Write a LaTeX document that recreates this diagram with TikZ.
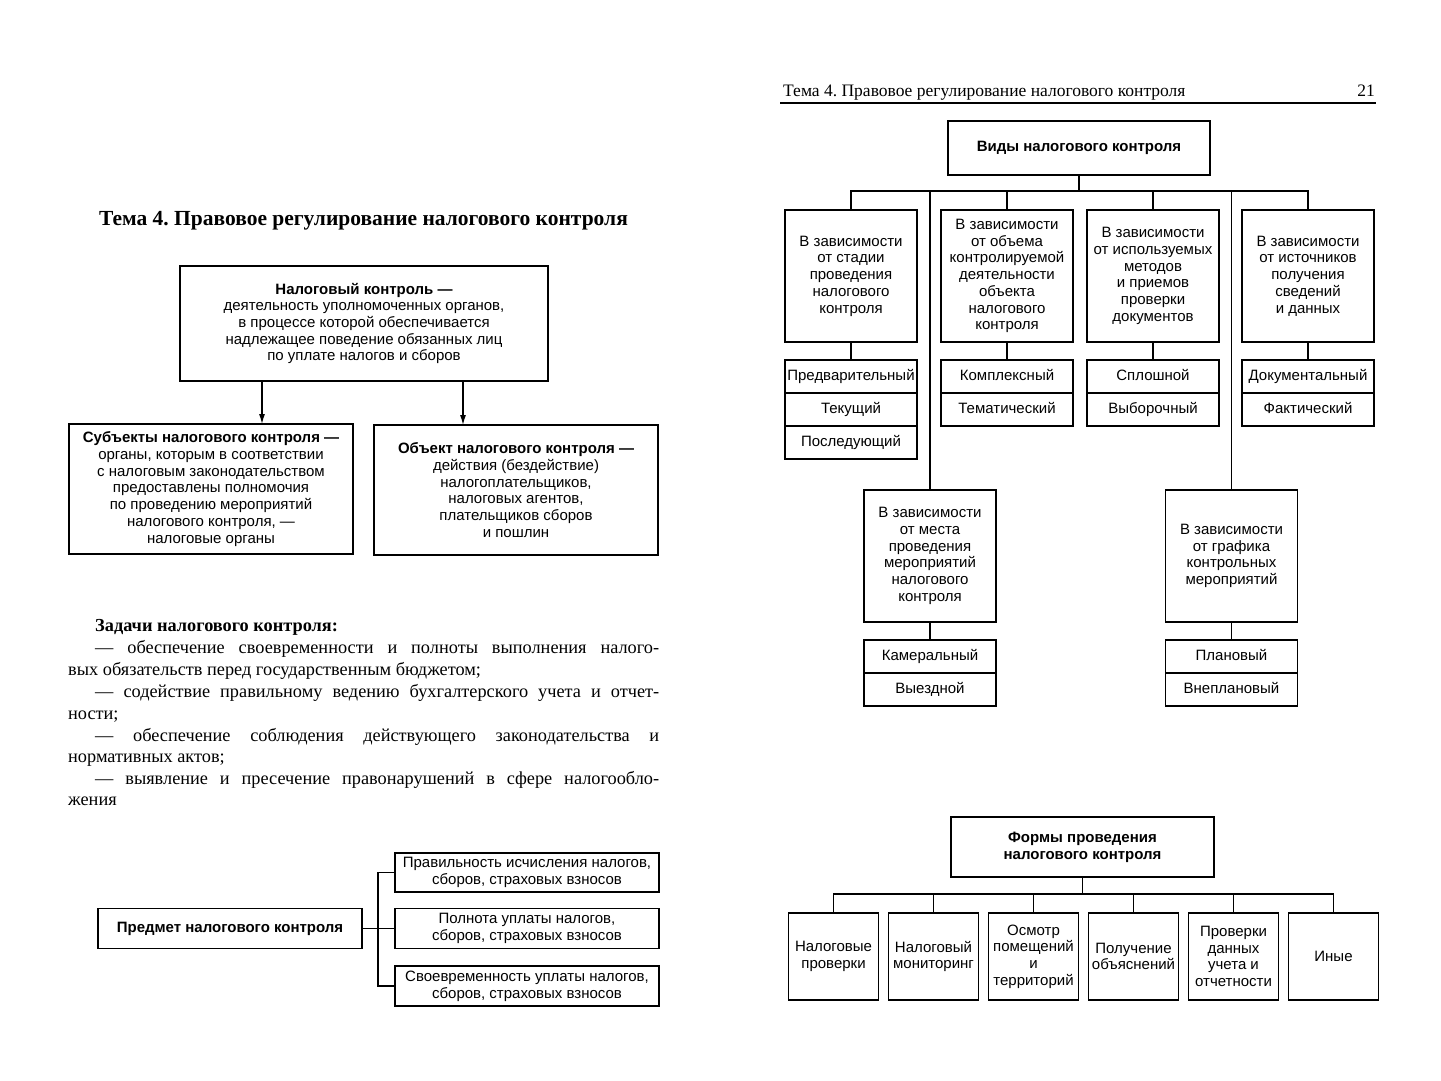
\documentclass[tikz,border=0pt]{standalone}
\usepackage{fontspec}
\setmainfont{Liberation Serif}
\setsansfont{Liberation Sans}
\usetikzlibrary{positioning,arrows.meta}

\newcommand{\boxfont}{\sffamily\fontsize{15}{16.7}\selectfont}
\newcommand{\bodyfont}{\rmfamily\fontsize{18.3}{21.7}\selectfont}
\newcommand{\jline}[2]{\hbox to #1{#2}}

\begin{document}
\frenchspacing
\begin{tikzpicture}[x=1pt,y=-1pt]
\tikzstyle{box}=[rectangle, draw=black, line width=1.4pt, outer sep=0pt, inner sep=1pt, align=center, font=\boxfont]
\tikzstyle{kind}=[box, minimum width=132pt, minimum height=132pt]
\tikzstyle{sub}=[box, minimum width=132pt, minimum height=33pt, text height=11pt, text depth=3pt]
\tikzstyle{form}=[box, minimum width=90pt, minimum height=87pt]
\tikzstyle{item}=[box, minimum width=264pt, minimum height=40pt]
\tikzstyle{connect}=[line width=1.2pt]
\tikzstyle{arrow}=[-{Latex[length=10pt,width=6pt]}, line width=1.2pt]
\tikzstyle{body}=[anchor=base west, inner sep=0pt, font=\bodyfont]

\useasboundingbox[fill=white] (0,0) rectangle (1441,1080);

% left page
\node[anchor=base, inner sep=0pt, font=\bfseries\fontsize{21.5}{25}\selectfont] (title) at (363.5,225) {Тема 4. Правовое регулирование налогового контроля};

\node[box, minimum width=368pt, minimum height=115pt] (nk) at (364,323.5) {\textbf{Налоговый контроль —}\\деятельность уполномоченных органов,\\в процессе которой обеспечивается\\надлежащее поведение обязанных лиц\\по уплате налогов и сборов};
\node[box, minimum width=284pt, minimum height=130pt] (subj) at (211,489) {\textbf{Субъекты налогового контроля —}\\органы, которым в соответствии\\с налоговым законодательством\\предоставлены полномочия\\по проведению мероприятий\\налогового контроля, —\\налоговые органы};
\node[box, minimum width=284pt, minimum height=130pt] (obj) at (516,490) {\textbf{Объект налогового контроля —}\\действия (бездействие)\\налогоплательщиков,\\налоговых агентов,\\плательщиков сборов\\и пошлин};
\coordinate (a1) at (262,0);
\coordinate (a2) at (463,0);
\draw[arrow] (nk.south -| a1) -- (subj.north -| a1);
\draw[arrow] (nk.south -| a2) -- (obj.north -| a2);

\node[body, font=\bfseries\fontsize{18.3}{21.7}\selectfont] (tasks) at (95,631) {Задачи налогового контроля:};
\node[body] (t1) at (95,653) {\jline{564pt}{— обеспечение своевременности и полноты выполнения налого-}};
\node[body] (t2) at (68,675) {вых обязательств перед государственным бюджетом;};
\node[body] (t3) at (95,697) {\jline{564pt}{— содействие правильному ведению бухгалтерского учета и отчет-}};
\node[body] (t4) at (68,719) {ности;};
\node[body] (t5) at (95,741) {\jline{564pt}{— обеспечение соблюдения действующего законодательства и}};
\node[body] (t6) at (68,762) {нормативных актов;};
\node[body] (t7) at (95,784) {\jline{564pt}{— выявление и пресечение правонарушений в сфере налогообло-}};
\node[body] (t8) at (68,805) {жения};

\node[item] (pred) at (230,928.5) {\textbf{Предмет налогового контроля}};
\node[item, minimum height=39pt] (p1) at (527,872.5) {Правильность исчисления налогов,\\сборов, страховых взносов};
\node[item] (p2) at (527,928.5) {Полнота уплаты налогов,\\сборов, страховых взносов};
\node[item] (p3) at (527,986) {Своевременность уплаты налогов,\\сборов, страховых взносов};
\coordinate (pj) at (378,928.5);
\draw[connect] (pred.east) -- (p2.west);
\draw[connect] (p1.west) -- (pj |- p1.west) -- (pj |- p3.west) -- (p3.west);

% right page
\node[anchor=base west, inner sep=0pt, font=\fontsize{17.5}{21}\selectfont] (head) at (783,96) {Тема 4. Правовое регулирование налогового контроля};
\node[anchor=base east, inner sep=0pt, font=\fontsize{17.5}{21}\selectfont] (page) at (1375,96) {21};
\draw[line width=1.2pt] (780,103) -- (1376,103);

\node[box, minimum width=262pt, minimum height=54pt] (vid) at (1079,148) {\textbf{Виды налогового контроля}};
\node[kind] (k1) at (851,276) {В зависимости\\от стадии\\проведения\\налогового\\контроля};
\node[kind] (k2) [right=24pt of k1] {В зависимости\\от объема\\контролируемой\\деятельности\\объекта\\налогового\\контроля};
\node[kind] (k3) [right=14pt of k2] {В зависимости\\от используемых\\методов\\и приемов\\проверки\\документов};
\node[kind] (k4) [right=23pt of k3] {В зависимости\\от источников\\получения\\сведений\\и данных};
\node[kind] (k5) at (930,556) {В зависимости\\от места\\проведения\\мероприятий\\налогового\\контроля};
\node[kind] (k6) at (1231.5,556) {В зависимости\\от графика\\контрольных\\мероприятий};

\node[sub] (k1a) [below=18pt of k1] {Предварительный};
\node[sub] (k1b) [below=0pt of k1a] {Текущий};
\node[sub] (k1c) [below=0pt of k1b] {Последующий};
\node[sub] (k2a) [below=18pt of k2] {Комплексный};
\node[sub] (k2b) [below=0pt of k2a] {Тематический};
\node[sub] (k3a) [below=18pt of k3] {Сплошной};
\node[sub] (k3b) [below=0pt of k3a] {Выборочный};
\node[sub] (k4a) [below=18pt of k4] {Документальный};
\node[sub] (k4b) [below=0pt of k4a] {Фактический};
\node[sub] (k5a) [below=18pt of k5] {Камеральный};
\node[sub] (k5b) [below=0pt of k5a] {Выездной};
\node[sub] (k6a) [below=18pt of k6] {Плановый};
\node[sub] (k6b) [below=0pt of k6a] {Внеплановый};

\coordinate (bus) at (1079,191);
\draw[connect] (vid.south) -- (bus);
\draw[connect] (k1.north) |- (bus) -| (k4.north);
\draw[connect] (k2.north) -- (k2.north |- bus);
\draw[connect] (k3.north) -- (k3.north |- bus);
\draw[connect] (k5.north) -- (k5.north |- bus);
\draw[connect] (k6.north) -- (k6.north |- bus);
\path (k1) edge [connect] (k1a)
      (k2) edge [connect] (k2a)
      (k3) edge [connect] (k3a)
      (k4) edge [connect] (k4a)
      (k5) edge [connect] (k5a)
      (k6) edge [connect] (k6a);

\node[box, minimum width=263pt, minimum height=60pt] (forms) at (1082.5,847) {\textbf{Формы проведения}\\\textbf{налогового контроля}};
\node[form] (f1) at (833.5,956.5) {Налоговые\\проверки};
\node[form] (f2) [right=10pt of f1] {Налоговый\\мониторинг};
\node[form] (f3) [right=10pt of f2] {Осмотр\\помещений\\и\\территорий};
\node[form] (f4) [right=10pt of f3] {Получение\\объяснений};
\node[form] (f5) [right=10pt of f4] {Проверки\\данных\\учета и\\отчетности};
\node[form] (f6) [right=10pt of f5] {Иные};
\coordinate (fbus) at (1082.5,894);
\draw[connect] (forms.south) -- (fbus);
\draw[connect] (f1.north) |- (fbus) -| (f6.north);
\draw[connect] (f2.north) -- (f2.north |- fbus);
\draw[connect] (f3.north) -- (f3.north |- fbus);
\draw[connect] (f4.north) -- (f4.north |- fbus);
\draw[connect] (f5.north) -- (f5.north |- fbus);
\end{tikzpicture}
\end{document}
